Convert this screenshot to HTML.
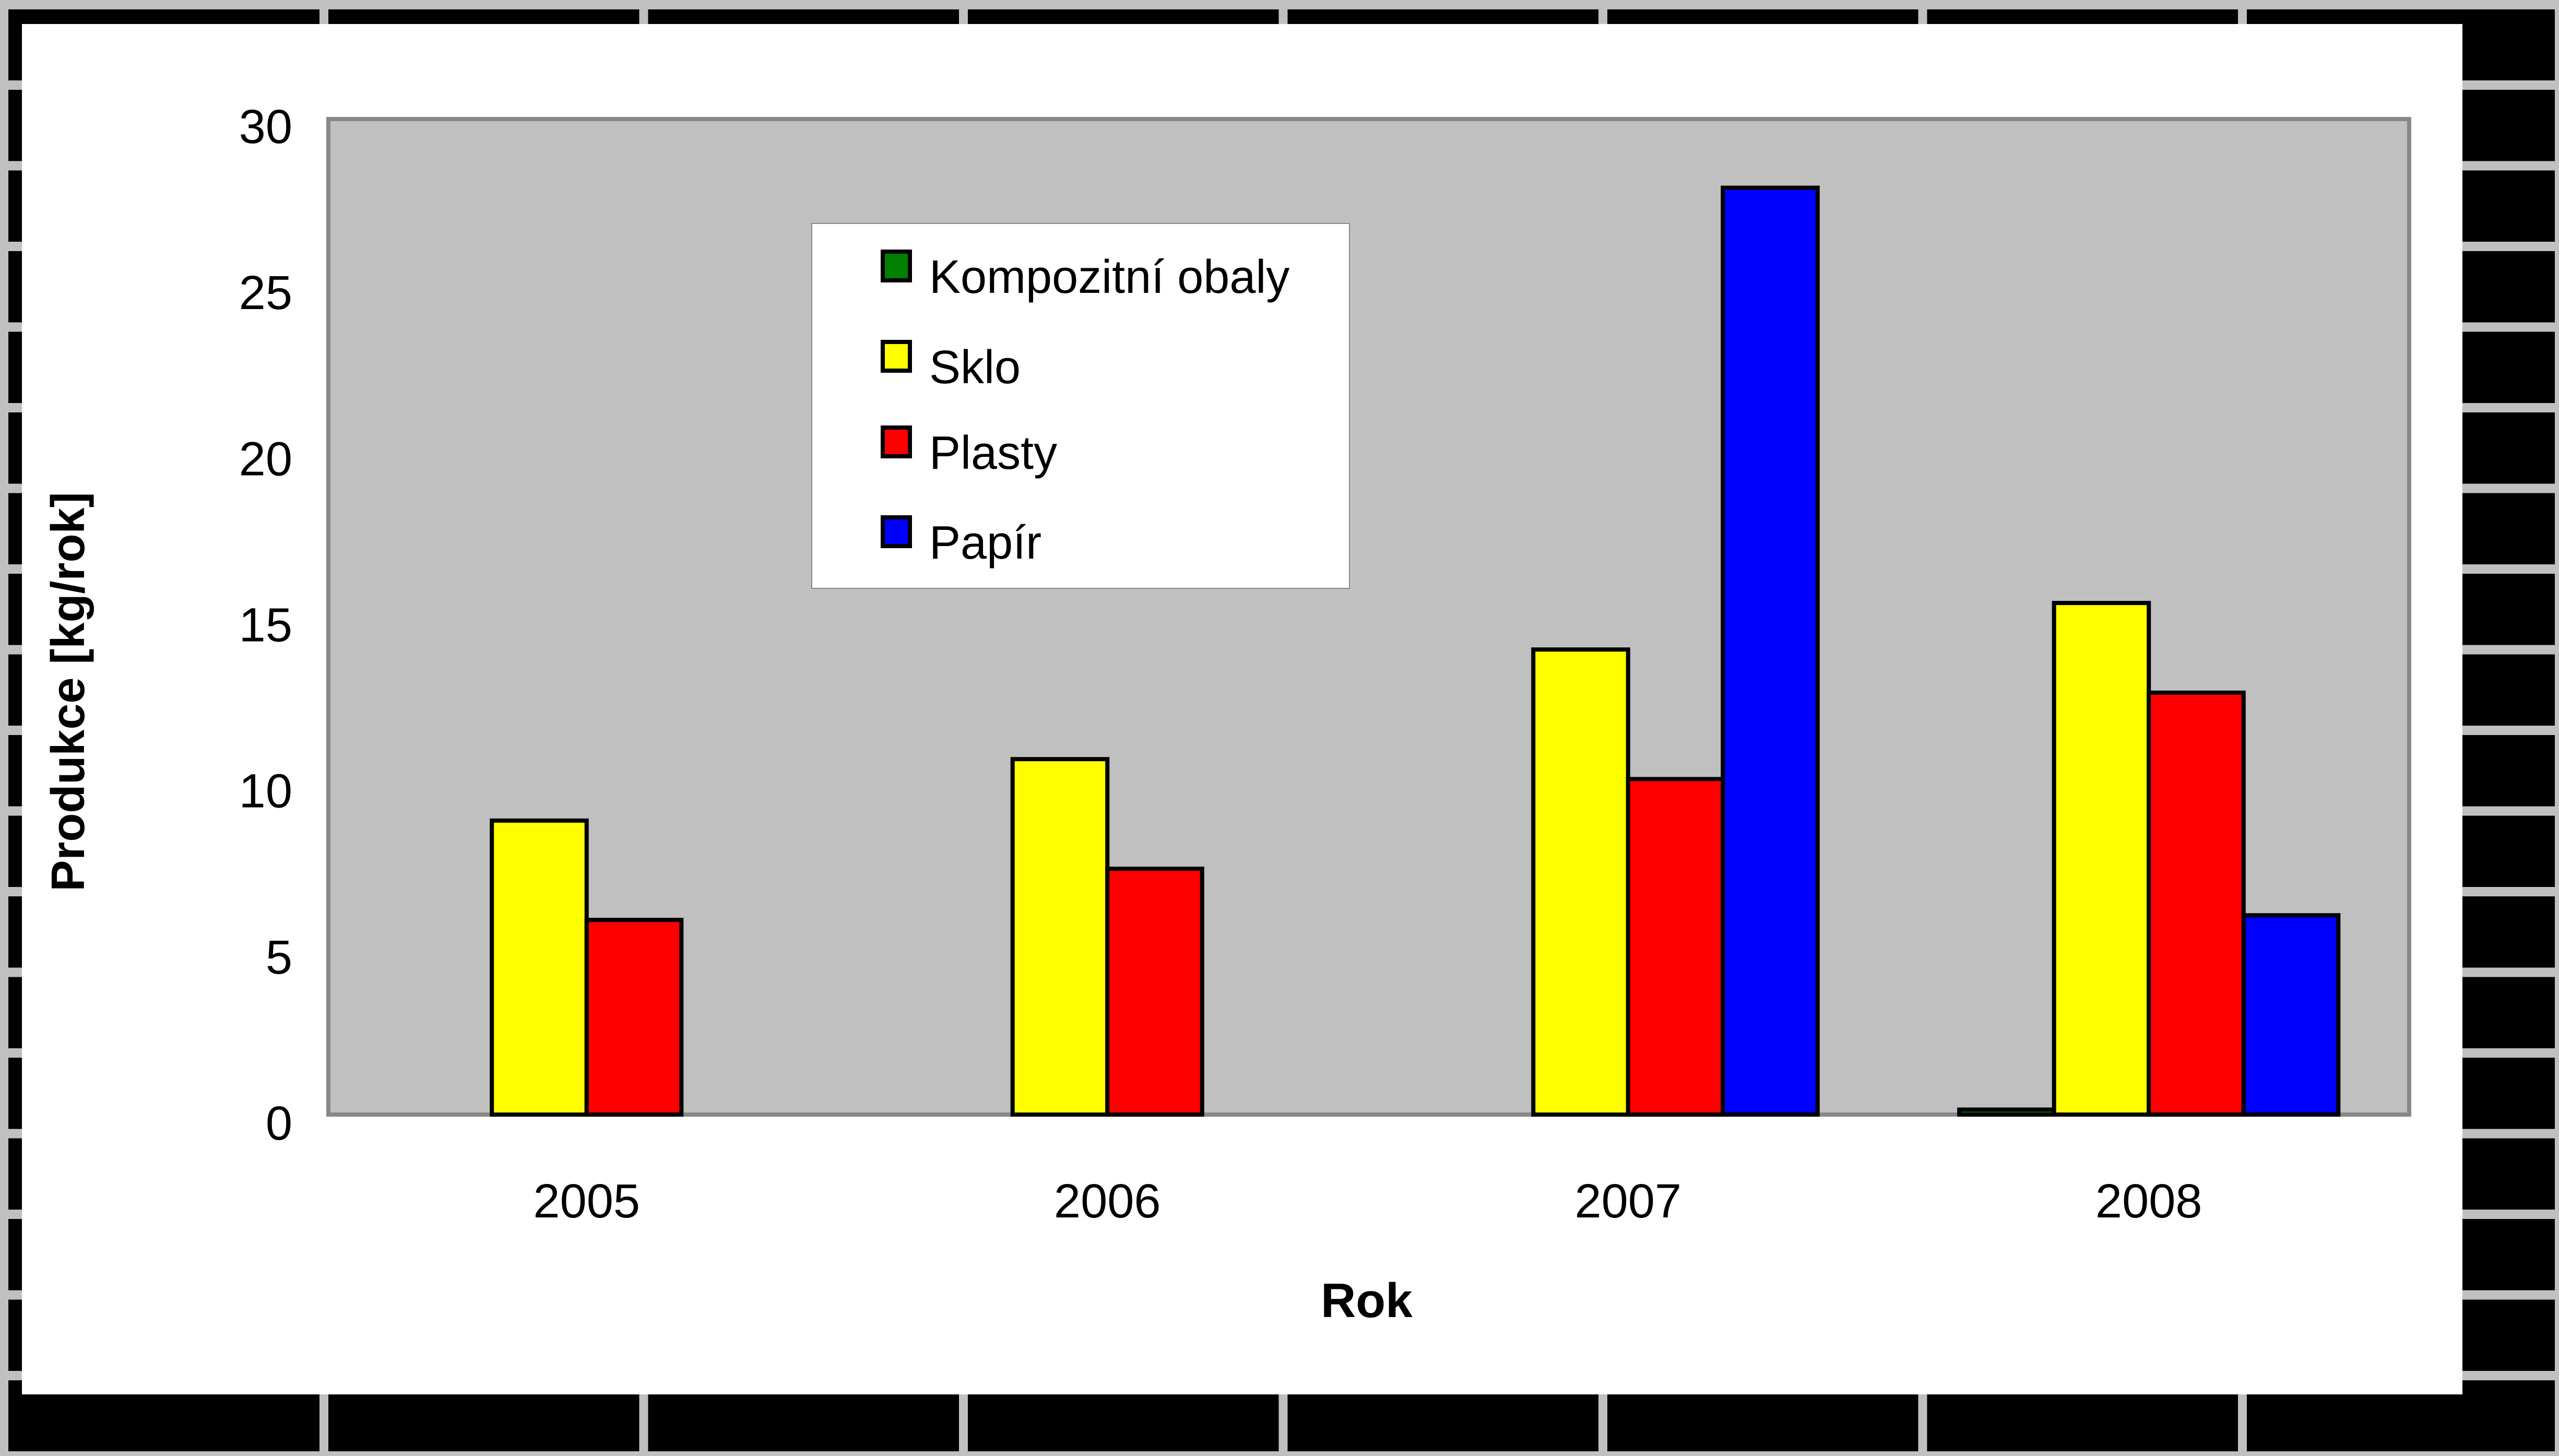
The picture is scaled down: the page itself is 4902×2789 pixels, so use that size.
<!DOCTYPE html>
<html><head><meta charset="utf-8"><style>
html,body{margin:0;padding:0;background:#c0c0c0;}
svg{display:block;font-family:"Liberation Sans",sans-serif;}
</style></head><body>
<svg id="chart" width="4902" height="2789" viewBox="0 0 4902 2789" xmlns="http://www.w3.org/2000/svg">
<rect x="0" y="0" width="4902" height="2789" fill="#c0c0c0"/>
<rect x="16" y="18" width="4878" height="2762" fill="#000"/>
<g id="gaps"></g>
<rect x="42" y="46" width="4675" height="2625" fill="#fff"/>
<rect x="629" y="228" width="3986" height="1907" fill="#c0c0c0" stroke="#888" stroke-width="8"/>
<g id="yticks"></g>
<g id="xticks"></g>
<g id="bars"></g>
<text transform="translate(161,1325) rotate(-90)" text-anchor="middle" font-size="90" font-weight="bold">Produkce [kg/rok]</text>
<text x="2618" y="2523" text-anchor="middle" font-size="93" font-weight="bold">Rok</text>
<g>
<rect x="1555" y="428" width="1030" height="699" fill="#fff" stroke="#888" stroke-width="2"/>
<g id="legend-items"></g>
</g>
</svg>
<script>
const categories = ["2005","2006","2007","2008"];
const seriesNames = ["Kompozitní obaly","Sklo","Plasty","Papír"];
const kompozit = [0, 0, 0, 0.15];
const sklo = [8.85, 10.7, 14.0, 15.4];
const plasty = [5.86, 7.4, 10.1, 12.7];
const papir = [0, 0, 27.9, 6.0];
const yTicks = [0, 5, 10, 15, 20, 25, 30];

const NS = "http://www.w3.org/2000/svg";
const colors = ["#008000","#ffff00","#ff0000","#0000ff"];
const series = [kompozit, sklo, plasty, papir];
const X0 = 625, X1 = 4615, Y0 = 2135, Y1 = 226, YMAX = 30;
const catW = (X1 - X0) / categories.length;
const barW = catW * 0.182;
function y(v){ return Y0 - (v / YMAX) * (Y0 - Y1); }
function mk(tag, attrs, parent){ const e = document.createElementNS(NS, tag); for (const k in attrs) e.setAttribute(k, attrs[k]); parent.appendChild(e); return e; }

const gaps = document.getElementById('gaps');
for (let x = 612; x < 4894; x += 612.5) {
  const r1 = mk('rect', {x: x, y: 18, width: 17, height: 28, fill: '#c0c0c0'}, gaps);
  
  
  const r2 = mk('rect', {x: x, y: 2671, width: 17, height: 109, fill: '#c0c0c0'}, gaps);
  
  
}
for (let yy = 154; yy < 2780; yy += 154.5) {
  const r1 = mk('rect', {x: 16, y: yy, width: 26, height: 18, fill: '#c0c0c0'}, gaps);
  
  
  const r2 = mk('rect', {x: 4717, y: yy, width: 177, height: 18, fill: '#c0c0c0'}, gaps);
  
  
}

const yt = document.getElementById('yticks');
yTicks.forEach(v => {
  const t = mk('text', {x: 560, y: y(v) + 48, 'text-anchor': 'end', 'font-size': 92}, yt);
  
  
  t.textContent = v;
});
const xt = document.getElementById('xticks');
categories.forEach((c, i) => {
  const t = mk('text', {x: X0 + catW * (i + 0.5), y: 2332, 'text-anchor': 'middle', 'font-size': 92}, xt);
  
  
  t.textContent = c;
});

const bars = document.getElementById('bars');
categories.forEach((c, i) => {
  const cx = X0 + catW * (i + 0.5);
  series.forEach((s, j) => {
    const v = s[i];
    if (v <= 0) return;
    const bx = cx - 2 * barW + j * barW;
    const r = mk('rect', {x: bx, y: y(v), width: barW, height: Y0 - y(v), fill: colors[j], stroke: '#000', 'stroke-width': 8}, bars);
    
    
  });
});

const lg = document.getElementById('legend-items');
const rowTops = [478, 651, 815, 987];
seriesNames.forEach((n, j) => {
  const top = rowTops[j];
  const m = mk('rect', {x: 1691, y: top + 4, width: 52, height: 55, fill: colors[j], stroke: '#000', 'stroke-width': 8}, lg);
  
  
  const t = mk('text', {x: 1780, y: top + 83, 'font-size': 90}, lg);
  
  
  t.textContent = n;
});
</script>
</body></html>
